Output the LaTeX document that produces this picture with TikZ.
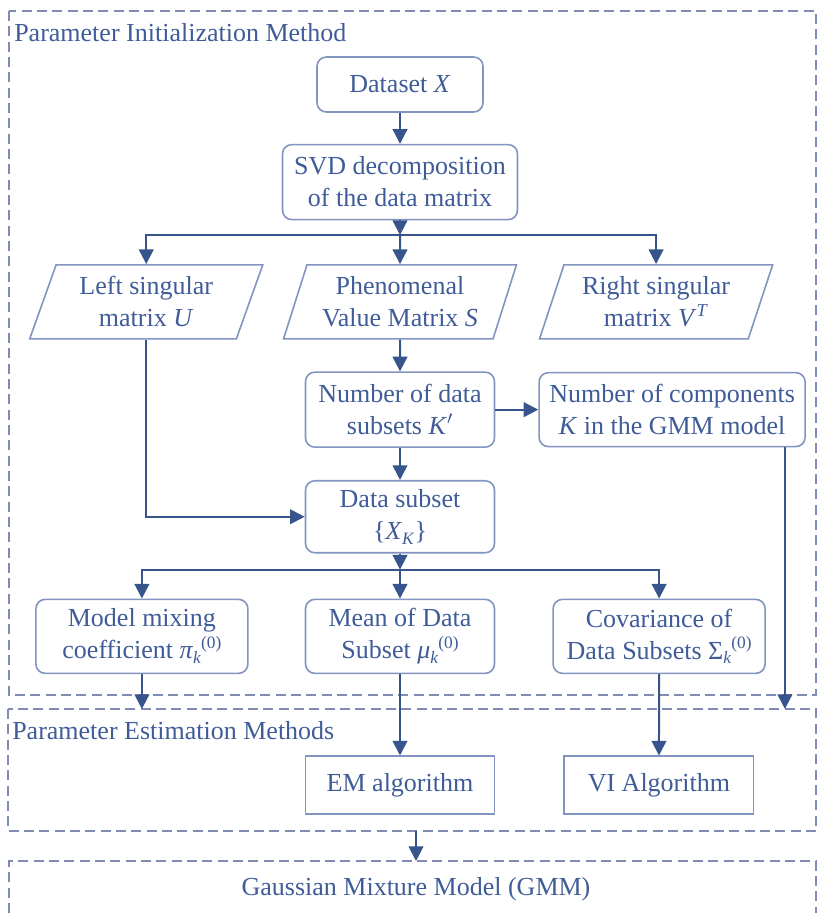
\documentclass[tikz,border=0pt]{standalone}
\usepackage{fontspec}
\setmainfont{Liberation Serif}
\usetikzlibrary{%
    arrows.meta,%
    positioning,%
    shapes.geometric
    }
\definecolor{gmmtext}{RGB}{63,92,152}
\definecolor{gmmline}{RGB}{130,148,192}
\definecolor{gmmarrow}{RGB}{55,85,140}
\definecolor{gmmdash}{RGB}{128,140,182}
\newcommand{\subsupx}[2]{\raisebox{-0.4ex}{\fontsize{13}{13}\selectfont\textit{#1}}\raisebox{0.85ex}{\fontsize{13}{13}\selectfont #2}}
\tikzset{
  basebox/.style={
    rectangle,
    draw=gmmline,
    line width=1.2pt,
    align=center,
    inner sep=2pt,
    font=\fontsize{19.5}{24}\selectfont\color{gmmtext},
    fill=white
  },
  roundbox/.style={
    basebox,
    rounded corners=7pt
  },
  sharpbox/.style={
    basebox,
    minimum width=142pt,
    minimum height=43.5pt
  },
  matrixdata/.style={
    basebox,
    trapezium,
    trapezium left angle=70,
    trapezium right angle=110,
    trapezium stretches=true,
    minimum width=175pt,
    minimum height=55.5pt
  },
  frametitle/.style={
    anchor=west,
    inner sep=0pt,
    font=\fontsize{19.5}{24}\selectfont\color{gmmtext}
  },
  stageframe/.style={
    draw=gmmdash,
    line width=1.2pt,
    dash pattern=on 7.5pt off 4pt
  },
  arrowgmm/.style={
    -{Triangle[length=11pt,width=11pt]},
    gmmarrow,
    line width=1.5pt
  },
  linegmm/.style={
    gmmarrow,
    line width=1.5pt
  },
}
\begin{document}
\begin{tikzpicture}[x=0.75pt,y=-0.75pt]
\useasboundingbox (0,0) rectangle (818,913);

% dashed stage frames
\draw[stageframe] (9,11) rectangle (816,695);
\draw[stageframe] (8,709) rectangle (816,831);
\draw[stageframe] (9,913) -- (9,861) -- (816,861) -- (816,913);
\node[frametitle] (inittitle) at (14,33) {Parameter Initialization Method};
\node[frametitle] (esttitle) at (12,731) {Parameter Estimation Methods};
\node[frametitle,anchor=center] (gmm) at (416,889) {Gaussian Mixture Model (GMM)};
\coordinate (esttop) at (0,709);
\coordinate (estbot) at (416,831);
\coordinate (gmmtop) at (416,861);

% initialization
\node[roundbox,minimum width=124.5pt,minimum height=41.25pt]
  (dataset)
  at (400,84.5)
  {Dataset \textit{X}};
\node[roundbox,minimum width=176.25pt,minimum height=56.25pt,below=23.25pt of dataset]
  (svd)
  {SVD decomposition\\of the data matrix};
\coordinate[below=11pt of svd] (split1);
\node[matrixdata,below=32.75pt of svd]
  (svals)
  {Phenomenal\\Value Matrix \textit{S}};
\node[matrixdata,left=33pt of svals]
  (lsing)
  {Left singular\\matrix \textit{U}};
\node[matrixdata,right=34pt of svals]
  (rsing)
  {Right singular\\matrix \textit{V}\textsuperscript{\textit{T}}};
\node[roundbox,minimum width=141.75pt,minimum height=56.25pt,below=23.75pt of svals]
  (kprime)
  {Number of data\\subsets \textit{K}$'$};
\node[roundbox,minimum width=199.5pt,minimum height=55.5pt,right=32.25pt of kprime]
  (ncomp)
  {Number of components\\\textit{K} in the GMM model};
\node[roundbox,minimum width=141.75pt,minimum height=54pt,below=24pt of kprime]
  (subset)
  {Data subset\\\{\textit{X}\subsupx{K}{}\}};
\coordinate[below=12pt of subset] (split2);
\node[roundbox,minimum width=141.75pt,minimum height=55.5pt,below=33.75pt of subset]
  (mean)
  {Mean of Data\\Subset \textit{μ}\subsupx{k}{(0)}};
\node[roundbox,minimum width=159pt,minimum height=55.5pt,left=42pt of mean]
  (mixing)
  {Model mixing\\coefficient \textit{π}\subsupx{k}{(0)}};
\node[roundbox,minimum width=159pt,minimum height=55.5pt,right=42.75pt of mean]
  (cov)
  {Covariance of\\Data Subsets Σ\subsupx{k}{(0)}};

% estimation
\node[sharpbox,below=61pt of mean]
  (em)
  {EM algorithm};
\node[sharpbox,right=51pt of em]
  (vi)
  {VI Algorithm};

\begin{scope}[arrowgmm]
\draw
  (dataset) -- (svd);
\draw[linegmm]
  (svd) -- (split1);
\draw
  (split1) -| (lsing);
\draw
  (split1) -- (svals);
\draw
  (split1) -| (rsing);
\draw
  (svals) -- (kprime);
\draw
  (kprime) -- (ncomp);
\draw
  (kprime) -- (subset);
\draw
  (lsing) |- (subset);
\draw[linegmm]
  (subset) -- (split2);
\draw
  (split2) -| (mixing);
\draw
  (split2) -- (mean);
\draw
  (split2) -| (cov);
\draw
  (mixing) -- (mixing |- esttop);
\draw
  ([xshift=-15.75pt]ncomp.south east) -- ([xshift=-15.75pt]ncomp.south east |- esttop);
\draw
  (mean) -- (em);
\draw
  (cov) -- (vi);
\draw
  (estbot) -- (gmmtop);
\end{scope}
\end{tikzpicture}
\end{document}
